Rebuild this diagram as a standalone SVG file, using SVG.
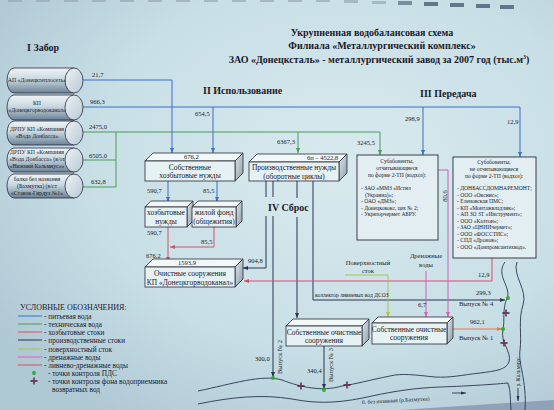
<svg xmlns="http://www.w3.org/2000/svg" width="554" height="410" viewBox="0 0 554 410">
<defs>
<radialGradient id="bg" cx="0.62" cy="0.4" r="0.75">
<stop offset="0" stop-color="#d8eaee"/>
<stop offset="0.6" stop-color="#c8dfe6"/>
<stop offset="1" stop-color="#aec8d4"/>
</radialGradient>
<linearGradient id="cyl" x1="0" y1="0" x2="0" y2="1">
<stop offset="0" stop-color="#f0f5f7"/>
<stop offset="0.45" stop-color="#c9d8e0"/>
<stop offset="1" stop-color="#6b8297"/>
</linearGradient>
<linearGradient id="cap" x1="0" y1="0" x2="1" y2="1">
<stop offset="0" stop-color="#eef4f6"/>
<stop offset="1" stop-color="#b6c8d3"/>
</linearGradient>
<linearGradient id="side" x1="0" y1="0" x2="1" y2="1">
<stop offset="0" stop-color="#dfe8ec"/>
<stop offset="1" stop-color="#8c9ca8"/>
</linearGradient>
<marker id="aBlue" viewBox="0 0 10 10" refX="10" refY="5" markerWidth="5" markerHeight="5" orient="auto" markerUnits="userSpaceOnUse"><path d="M0,1 L10,5 L0,9 Z" fill="#3d6fd0"/></marker>
<marker id="aGreen" viewBox="0 0 10 10" refX="10" refY="5" markerWidth="5" markerHeight="5" orient="auto" markerUnits="userSpaceOnUse"><path d="M0,1 L10,5 L0,9 Z" fill="#4a9a5a"/></marker>
<marker id="aRed" viewBox="0 0 10 10" refX="10" refY="5" markerWidth="5" markerHeight="5" orient="auto" markerUnits="userSpaceOnUse"><path d="M0,1 L10,5 L0,9 Z" fill="#d0506a"/></marker>
<marker id="aNavy" viewBox="0 0 10 10" refX="10" refY="5" markerWidth="5" markerHeight="5" orient="auto" markerUnits="userSpaceOnUse"><path d="M0,1 L10,5 L0,9 Z" fill="#2a3550"/></marker>
<marker id="aYg" viewBox="0 0 10 10" refX="10" refY="5" markerWidth="5" markerHeight="5" orient="auto" markerUnits="userSpaceOnUse"><path d="M0,1 L10,5 L0,9 Z" fill="#a8c44a"/></marker>
<marker id="aMag" viewBox="0 0 10 10" refX="10" refY="5" markerWidth="5" markerHeight="5" orient="auto" markerUnits="userSpaceOnUse"><path d="M0,1 L10,5 L0,9 Z" fill="#d060b8"/></marker>
<marker id="aOr" viewBox="0 0 10 10" refX="10" refY="5" markerWidth="5" markerHeight="5" orient="auto" markerUnits="userSpaceOnUse"><path d="M0,1 L10,5 L0,9 Z" fill="#e07a50"/></marker>
<marker id="aRiver" viewBox="0 0 10 10" refX="10" refY="5" markerWidth="5" markerHeight="5" orient="auto" markerUnits="userSpaceOnUse"><path d="M0,2 L10,5 L0,8 Z" fill="#2a3550"/></marker>
<g id="cross"><path d="M-3.5,0 H3.5 M0,-3.5 V3.5" stroke="#2a2050" stroke-width="1.3"/><path d="M-2,0 H2 M0,-2 V2" stroke="#c03040" stroke-width="0.8"/></g>
</defs>
<style>
text{font-family:"Liberation Serif","DejaVu Serif",serif;fill:#1a1a2a}
.t{font-weight:bold;font-size:10px;text-anchor:middle}
.h{font-weight:bold;font-size:10px}
.n{font-size:6.5px}
.bx{font-size:7.5px;text-anchor:middle}
.sm{font-size:5.6px}
.smc{font-size:5.6px;text-anchor:middle}
.cy{font-size:5.8px;text-anchor:middle}
.lg{font-size:7.3px}
.front{fill:#e6f1f4;stroke:#2a2a35;stroke-width:0.8}
.top{fill:#f2f7f8;stroke:#2a2a35;stroke-width:0.8}
.sd{fill:url(#side);stroke:#2a2a35;stroke-width:0.8}
.cylb{fill:url(#cyl);stroke:#2a2a40;stroke-width:0.8}
.cap{fill:url(#cap);stroke:#2a2a40;stroke-width:0.8}
.sub{fill:#e3eef2;stroke:#2a2a35;stroke-width:0.9}
.ln{fill:none;stroke-width:1}
.blue{stroke:#3d6fd0}
.green{stroke:#4a9a5a}
.red{stroke:#d0506a}
.navy{stroke:#2a3550}
.yg{stroke:#a8c44a}
.mag{stroke:#d060b8}
.or{stroke:#e07a50}
.river{fill:none;stroke:#2a3550;stroke-width:0.9}
.dot{fill:#34a838}
</style>
<rect width="554" height="410" fill="url(#bg)"/>
<g id="screen-edge" fill="#9aa8b4" opacity="0.7">
<rect x="8" y="0" width="14" height="2"/><rect x="36" y="0" width="14" height="2"/><rect x="64" y="0" width="14" height="2"/><rect x="92" y="0" width="14" height="2"/><rect x="120" y="0" width="14" height="2"/><rect x="148" y="0" width="14" height="2"/><rect x="176" y="0" width="14" height="2"/><rect x="204" y="0" width="14" height="2"/><rect x="232" y="0" width="14" height="2"/><rect x="260" y="0" width="14" height="2"/><rect x="288" y="0" width="14" height="2"/><rect x="316" y="0" width="14" height="2"/><rect x="344" y="0" width="14" height="3"/><rect x="372" y="1" width="14" height="3"/><rect x="398" y="1" width="14" height="4" fill="#5a6a80"/><rect x="424" y="2" width="14" height="4" fill="#3a4a68"/><rect x="450" y="3" width="14" height="4" fill="#3a4a68"/><rect x="476" y="4" width="14" height="4" fill="#3a4a68"/><rect x="500" y="5" width="14" height="4" fill="#3a4a68"/>
</g>
<polygon points="400,410 554,400 554,410" fill="#8fa2b8"/>

<g id="title">
<text class="t" x="372" y="36">Укрупненная водобалансовая схема</text>
<text class="t" x="382" y="49">Филиала «Металлургический комплекс»</text>
<text class="t" x="379" y="63">ЗАО «Донецксталь» - металлургический завод за 2007 год (тыс.м<tspan font-size="6" dy="-4">3</tspan><tspan dy="4">)</tspan></text>
<text class="h" x="27" y="51" font-size="11px">I Забор</text>
<text class="h" x="203" y="94">II Использование</text>
<text class="h" x="420" y="97">III Передача</text>
<text class="h" x="268" y="211" font-size="11.5px">IV Сброс</text>
</g>

<g id="connectors">
<path class="ln blue" d="M83,80 H172 V153" marker-end="url(#aBlue)"/>
<path class="ln blue" d="M83,107 H520 V157" marker-end="url(#aBlue)"/>
<path class="ln blue" d="M213,107 V153" marker-end="url(#aBlue)"/>
<path class="ln blue" d="M423,107 V155" marker-end="url(#aBlue)"/>
<path class="ln green" d="M83,132 H380 V155" marker-end="url(#aGreen)"/>
<path class="ln green" d="M298,132 V153" marker-end="url(#aGreen)"/>
<path class="ln green" d="M83,160 H116 V132 M83,187 H116 V160"/>
<path class="ln blue" d="M168,181 V202" marker-end="url(#aBlue)"/>
<path class="ln blue" d="M217,181 V202" marker-end="url(#aBlue)"/>
<path class="ln red" d="M168,227 V262" marker-end="url(#aRed)"/>
<path class="ln red" d="M214,227 V247 H170" marker-end="url(#aRed)"/>
<path class="ln navy" d="M266,181 V197 M266,216 V268 H243" marker-end="url(#aNavy)"/>
<path class="ln navy" d="M273,181 V197 M273,216 V377" marker-end="url(#aNavy)"/>
<path class="ln navy" d="M297,181 V198 M297,217 V318" marker-end="url(#aNavy)"/>
<path class="ln navy" d="M313,181 V300 H505" marker-end="url(#aNavy)"/>
<path class="ln navy" d="M324,346 V389" marker-end="url(#aNavy)"/>
<path class="ln red" d="M492,258 V281 H244" marker-end="url(#aRed)"/>
<path class="ln yg" d="M345,275 H388 V317" marker-end="url(#aYg)"/>
<path class="ln mag" d="M426,271 V317" marker-end="url(#aMag)"/>
<path class="ln mag" d="M438,170 H448 V317" marker-end="url(#aMag)"/>
<path class="ln or" d="M451,329 H502" marker-end="url(#aOr)"/>
</g>

<g id="labels">
<text class="n" x="92" y="77">21,7</text>
<text class="n" x="90" y="104">966,3</text>
<text class="n" x="89" y="129">2475,0</text>
<text class="n" x="89" y="158">6505,0</text>
<text class="n" x="91" y="184">632,8</text>
<text class="n" x="195" y="116">654,5</text>
<text class="n" x="277" y="144">6367,3</text>
<text class="n" x="357" y="145">3245,5</text>
<text class="n" x="405" y="121">298,9</text>
<text class="n" x="507" y="124">12,9</text>
<text class="n" x="147" y="193">590,7</text>
<text class="n" x="203" y="193">85,5</text>
<text class="n" x="147" y="235">590,7</text>
<text class="n" x="201" y="244">85,5</text>
<text class="n" x="146" y="258">676,2</text>
<text class="n" x="248" y="263">904,8</text>
<text class="n" x="478" y="277">12,9</text>
<text class="n" x="476" y="295">299,3</text>
<text class="n" x="459" y="306">Выпуск № 4</text>
<text class="n" x="418" y="307">6,7</text>
<text class="n" x="470" y="324">962,1</text>
<text class="n" x="459" y="340">Выпуск № 1</text>
<text class="n" x="255" y="361">300,0</text>
<text class="n" x="307" y="373">340,4</text>
<text class="n" transform="translate(282,357) rotate(-90)" text-anchor="middle">Выпуск № 2</text>
<text class="n" transform="translate(333,365) rotate(-90)" text-anchor="middle">Выпуск № 3</text>
<text class="n" transform="translate(447,196) rotate(-90)" text-anchor="middle">80,6</text>
<text class="sm" x="315" y="297" font-size="4.8px">коллектор ливневых вод ДСОЗ</text>
<text class="n" x="368" y="265" text-anchor="middle" font-size="7px">Поверхностный</text>
<text class="n" x="368" y="273" text-anchor="middle" font-size="7px">сток</text>
<text class="n" x="426" y="258" text-anchor="middle" font-size="7px">Дренажные</text>
<text class="n" x="426" y="267" text-anchor="middle" font-size="7px">воды</text>
</g>

<g id="src-1">
<path class="cylb" d="M14,68 H74 V93 H14 A7,12.5 0 0 1 14,68 Z"/><ellipse class="cap" cx="74" cy="80.5" rx="9" ry="12.5"/>
<text class="cy" x="37" y="82">АП «Донецктеплосеть»</text>
</g>
<g id="src-2">
<path class="cylb" d="M14,95 H74 V120 H14 A7,12.5 0 0 1 14,95 Z"/><ellipse class="cap" cx="74" cy="107.5" rx="9" ry="12.5"/>
<text class="cy" x="37" y="105">КП</text><text class="cy" x="37" y="112">«Донецкгорводоканал»</text>
</g>
<g id="src-3">
<path class="cylb" d="M14,121 H74 V145 H14 A7,12 0 0 1 14,121 Z"/><ellipse class="cap" cx="74" cy="133" rx="9" ry="12"/>
<text class="cy" x="37" y="131">ДРПУ КП «Компания</text><text class="cy" x="37" y="138">«Вода Донбасса»</text>
</g>
<g id="src-4">
<path class="cylb" d="M14,148 H74 V172 H14 A7,12 0 0 1 14,148 Z"/><ellipse class="cap" cx="74" cy="160" rx="9" ry="12"/>
<text class="cy" x="37" y="154">ДРПУ КП «Компания</text><text class="cy" x="37" y="161">«Вода Донбасса» (в/от</text><text class="cy" x="37" y="168">«Нижний Кальмиус»»</text>
</g>
<g id="src-5">
<path class="cylb" d="M14,174 H74 V198 H14 A7,12 0 0 1 14,174 Z"/><ellipse class="cap" cx="74" cy="186" rx="9" ry="12"/>
<text class="cy" x="37" y="181">балка без названия</text><text class="cy" x="37" y="188">(Бахмутка) (в/ст</text><text class="cy" x="37" y="195">«Ставок-Гирдуз №1»</text>
</g>

<g id="box-household">
<polygon class="top" points="145,161 153,153 243,153 235,161"/><polygon class="sd" points="235,161 243,153 243,173 235,181"/><rect class="front" x="145" y="161" width="90" height="20"/>
<text class="n" x="184" y="159" font-size="6px">676,2</text>
<text class="bx" x="190" y="169.5">Собственные</text><text class="bx" x="190" y="178">хозбытовые нужды</text>
</g>
<g id="box-hoz">
<polygon class="top" points="145,207 151,201 193,201 187,207"/><polygon class="sd" points="187,207 193,201 193,221 187,227"/><rect class="front" x="145" y="207" width="42" height="20"/>
<text class="bx" x="166" y="215">хозбытовые</text><text class="bx" x="166" y="224">нужды</text>
</g>
<g id="box-housing">
<polygon class="top" points="192,207 198,201 242,201 236,207"/><polygon class="sd" points="236,207 242,201 242,221 236,227"/><rect class="front" x="192" y="207" width="44" height="20"/>
<text class="bx" x="214" y="215">жилой фонд</text><text class="bx" x="214" y="224">(общежития)</text>
</g>
<g id="box-production">
<polygon class="top" points="249,162 257,154 347,154 339,162"/><polygon class="sd" points="339,162 347,154 347,173 339,181"/><rect class="front" x="249" y="162" width="90" height="19"/>
<text class="n" x="307" y="160" font-size="6px">6п – 4522,8</text>
<text class="bx" x="294" y="170">Производственные нужды</text><text class="bx" x="294" y="178.5">(оборотные циклы)</text>
</g>
<g id="box-citytreatment">
<polygon class="top" points="145,267 153,259 243,259 235,267"/><polygon class="sd" points="235,267 243,259 243,279 235,287"/><rect class="front" x="145" y="267" width="90" height="20"/>
<text class="n" x="178" y="265" font-size="6px">1593,9</text>
<text class="bx" x="190" y="276">Очистные сооружения</text><text class="bx" x="190" y="284.5">КП «Донецкгорводоканал»</text>
</g>
<g id="box-own-treatment-1">
<polygon class="top" points="286,326 293,319 369,319 362,326"/><polygon class="sd" points="362,326 369,319 369,339 362,346"/><rect class="front" x="286" y="326" width="76" height="20"/>
<text class="bx" x="324" y="334.5">Собственные очистные</text><text class="bx" x="324" y="343">сооружения</text>
</g>
<g id="box-own-treatment-2">
<polygon class="top" points="372,323 378,317 453,317 447,323"/><polygon class="sd" points="447,323 453,317 453,338 447,344"/><rect class="front" x="372" y="323" width="75" height="21"/>
<text class="bx" x="409" y="331.5">Собственные очистные</text><text class="bx" x="409" y="340">сооружения</text>
</g>
<g id="box-subscribers-reporting">
<rect class="sub" x="357" y="155" width="81" height="85"/>
<text class="smc" x="397" y="163">Субабоненты,</text>
<text class="smc" x="397" y="170">отчитывающиеся</text>
<text class="smc" x="397" y="177">по форме 2-ТП (водхоз):</text>
<text class="sm" x="361" y="190">- ЗАО «ММЗ «Истил</text>
<text class="sm" x="365" y="196.5">(Украина)»;</text>
<text class="sm" x="361" y="203">- ОАО «ДМЗ»;</text>
<text class="sm" x="361" y="209.5">- Донецкококс, цех № 2;</text>
<text class="sm" x="361" y="216">- Укрвторчермет АБРУ.</text>
</g>
<g id="box-subscribers-nonreporting">
<rect class="sub" x="453" y="157" width="83" height="101"/>
<text class="smc" x="494" y="164">Субабоненты,</text>
<text class="smc" x="494" y="171">не отчитывающиеся</text>
<text class="smc" x="494" y="178">по форме 2-ТП (водхоз):</text>
<text class="sm" x="457" y="190">- ДОНБАССДОМНАРЕМОНТ;</text>
<text class="sm" x="457" y="196.5">- ООО «Оксиис»;</text>
<text class="sm" x="457" y="203">- Еленовская ПМС;</text>
<text class="sm" x="457" y="209.5">- КП «Монтажвладлик»;</text>
<text class="sm" x="457" y="216">- АП ЗО ЗТ «Инструмент»;</text>
<text class="sm" x="457" y="222.5">- ООО «Калтон»;</text>
<text class="sm" x="457" y="229">- ЗАО «ЦНИИчермет»;</text>
<text class="sm" x="457" y="235.5">- ООО «ФОССТИС»;</text>
<text class="sm" x="457" y="242">- СПД «Дронов»;</text>
<text class="sm" x="457" y="248.5">- ООО «Донпромсантехвод».</text>
</g>

<g id="rivers">
<path class="river" d="M505,262 C495,275 512,288 507,298 C502,310 505,320 503,330 C500,342 512,352 509,362 C506,370 495,371 480,373 C462,375 450,378 435,377 C415,375 402,373 390,376 C370,380 356,384 342,386 C322,392 300,387 282,380 C262,374 232,384 198,391"/>
<path class="river" d="M198,404 C232,397 262,394 292,399 C322,405 345,402 372,396 C395,391 415,388 440,387 C470,386 498,384 508,383 C511,392 510,400 511,410"/>
<path class="river" d="M517,262 C512,275 528,290 523,305 C518,320 522,335 520,350 C518,365 527,380 525,410"/>
<path class="river" d="M452,393 H466" marker-end="url(#aRiver)"/>
<path class="river" d="M518,388 V401" marker-end="url(#aRiver)"/>
<text class="sm" x="362" y="404" font-size="5.3px" transform="rotate(-3 362 404)">б. без названия (р.Бахмутка)</text>
<text class="sm" transform="translate(520,372) rotate(-90)" text-anchor="middle" font-size="5.3px">р. Кальмиус</text>
<circle class="dot" cx="273" cy="378" r="2"/>
<circle class="dot" cx="324" cy="390" r="2"/>
<circle class="dot" cx="508" cy="298" r="2"/>
<circle class="dot" cx="503" cy="329" r="2"/>
<use href="#cross" x="301" y="386"/>
<use href="#cross" x="347" y="385"/>
<use href="#cross" x="506" y="313"/>
<use href="#cross" x="504" y="343"/>
</g>

<g id="legend">
<text x="20" y="310" font-size="8px">УСЛОВНЫЕ ОБОЗНАЧЕНИЯ:</text>
<path class="ln blue" d="M18,316 H42"/><text class="lg" x="44" y="318.5">- питьевая вода</text>
<path class="ln green" d="M18,324 H42"/><text class="lg" x="44" y="326.5">- техническая вода</text>
<path class="ln red" d="M18,332 H42"/><text class="lg" x="44" y="334.5">- хозбытовые стоки</text>
<path class="ln navy" d="M18,340 H42"/><text class="lg" x="44" y="342.5">- производственные стоки</text>
<path class="ln yg" d="M18,349 H42"/><text class="lg" x="44" y="351.5">- поверхностный сток</text>
<path class="ln mag" d="M18,357 H42"/><text class="lg" x="44" y="359.5">- дренажные воды</text>
<path class="ln red" d="M18,365 H42"/><text class="lg" x="44" y="367.5">- ливнево-дренажные воды</text>
<circle class="dot" cx="34" cy="373" r="2"/><text class="lg" x="48" y="375.5">- точки контроля ПДС</text>
<use href="#cross" x="34" y="381"/><text class="lg" x="48" y="383.5">- точки контроля фона водоприемника</text>
<text class="lg" x="52" y="391.5">возвратных вод</text>
</g>
</svg>
